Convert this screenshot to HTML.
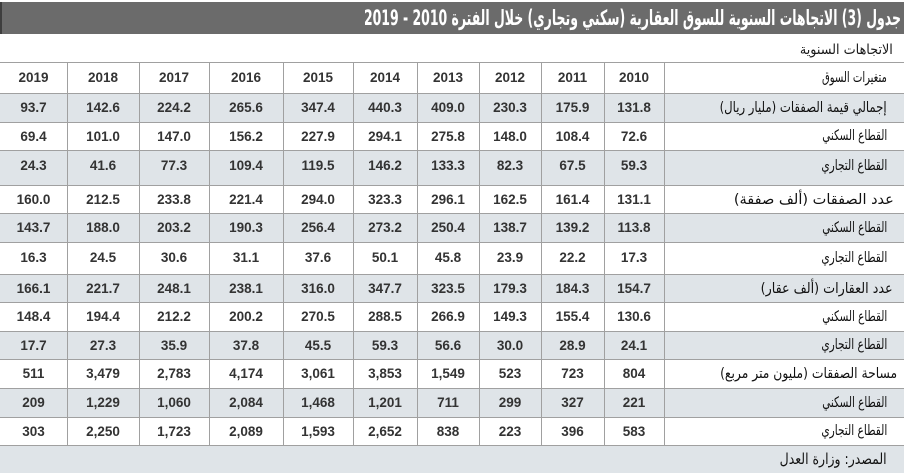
<!DOCTYPE html>
<html lang="ar">
<head>
<meta charset="utf-8">
<style>
  html,body{margin:0;padding:0;}
  body{width:904px;height:473px;position:relative;overflow:hidden;background:#fff;font-family:"Liberation Sans","DejaVu Sans",sans-serif;}
  .hdr{position:absolute;left:0;top:2px;width:904px;height:32px;background:#6b6b6b;border-left:2px solid #3e3e3e;box-sizing:border-box;}
  .title{position:absolute;right:3px;top:3px;height:30px;line-height:30px;color:#fff;font-family:"DejaVu Sans",sans-serif;font-weight:bold;font-size:21px;white-space:nowrap;direction:rtl;transform-origin:100% 50%;}
  .sub{position:absolute;right:11px;top:40px;height:20px;line-height:20px;color:#1a1a1a;font-family:"DejaVu Sans",sans-serif;font-size:14px;white-space:nowrap;direction:rtl;transform-origin:100% 50%;}
  .row{position:absolute;left:0;width:904px;border-top:1px solid #a0a0a0;box-sizing:border-box;}
  .sh{background:#dfe4e8;}
  .n{position:absolute;top:0;text-align:center;font-weight:bold;font-size:13.5px;color:#333;}
  .lab{position:absolute;top:0;white-space:nowrap;direction:rtl;font-family:"DejaVu Sans",sans-serif;font-size:14.5px;color:#111;transform-origin:100% 50%;}
  .c0{left:0;width:67px}.c1{left:67px;width:72px}.c2{left:139px;width:70px}.c3{left:209px;width:74px}
  .c4{left:283px;width:70px}.c5{left:353px;width:64px}.c6{left:417px;width:62px}.c7{left:479px;width:62px}
  .c8{left:541px;width:63px}.c9{left:604px;width:60px}
  .vl{position:absolute;top:62px;height:383px;width:1px;background:#a0a0a0;}
  .foot{position:absolute;left:0;top:445px;width:904px;height:28px;background:#dfe4e8;border-top:1px solid #a0a0a0;box-sizing:border-box;}
</style>
</head>
<body>
<div class="hdr"></div>
<div class="title fit" style="--w:537">جدول (3) الاتجاهات السنوية للسوق العقارية (سكني وتجاري) خلال الفترة 2010 - 2019</div>
<div class="sub fit" style="--w:93">الاتجاهات السنوية</div>

<div class="row" style="top:62px;height:31px;line-height:30px;">
  <span class="n c0">2019</span><span class="n c1">2018</span><span class="n c2">2017</span><span class="n c3">2016</span><span class="n c4">2015</span><span class="n c5">2014</span><span class="n c6">2013</span><span class="n c7">2012</span><span class="n c8">2011</span><span class="n c9">2010</span>
  <span class="lab fit" style="right:17px;--w:65">متغيرات السوق</span>
</div>

<div class="row sh" style="top:93px;height:29px;line-height:28px;">
  <span class="n c0">93.7</span><span class="n c1">142.6</span><span class="n c2">224.2</span><span class="n c3">265.6</span><span class="n c4">347.4</span><span class="n c5">440.3</span><span class="n c6">409.0</span><span class="n c7">230.3</span><span class="n c8">175.9</span><span class="n c9">131.8</span>
  <span class="lab fit" style="right:17px;--w:167">إجمالي قيمة الصفقات (مليار ريال)</span>
</div>

<div class="row" style="top:122px;height:28px;line-height:27px;">
  <span class="n c0">69.4</span><span class="n c1">101.0</span><span class="n c2">147.0</span><span class="n c3">156.2</span><span class="n c4">227.9</span><span class="n c5">294.1</span><span class="n c6">275.8</span><span class="n c7">148.0</span><span class="n c8">108.4</span><span class="n c9">72.6</span>
  <span class="lab fit" style="right:17px;--w:65">القطاع السكني</span>
</div>

<div class="row sh" style="top:150px;height:35px;line-height:30px;">
  <span class="n c0">24.3</span><span class="n c1">41.6</span><span class="n c2">77.3</span><span class="n c3">109.4</span><span class="n c4">119.5</span><span class="n c5">146.2</span><span class="n c6">133.3</span><span class="n c7">82.3</span><span class="n c8">67.5</span><span class="n c9">59.3</span>
  <span class="lab fit" style="right:17px;--w:66">القطاع التجاري</span>
</div>

<div class="row" style="top:185px;height:28px;line-height:28px;">
  <span class="n c0">160.0</span><span class="n c1">212.5</span><span class="n c2">233.8</span><span class="n c3">221.4</span><span class="n c4">294.0</span><span class="n c5">323.3</span><span class="n c6">296.1</span><span class="n c7">162.5</span><span class="n c8">161.4</span><span class="n c9">131.1</span>
  <span class="lab fit" style="right:10px;--w:160">عدد الصفقات (ألف صفقة)</span>
</div>

<div class="row sh" style="top:213px;height:29px;line-height:28px;">
  <span class="n c0">143.7</span><span class="n c1">188.0</span><span class="n c2">203.2</span><span class="n c3">190.3</span><span class="n c4">256.4</span><span class="n c5">273.2</span><span class="n c6">250.4</span><span class="n c7">138.7</span><span class="n c8">139.2</span><span class="n c9">113.8</span>
  <span class="lab fit" style="right:17px;--w:65">القطاع السكني</span>
</div>

<div class="row" style="top:242px;height:32px;line-height:30px;">
  <span class="n c0">16.3</span><span class="n c1">24.5</span><span class="n c2">30.6</span><span class="n c3">31.1</span><span class="n c4">37.6</span><span class="n c5">50.1</span><span class="n c6">45.8</span><span class="n c7">23.9</span><span class="n c8">22.2</span><span class="n c9">17.3</span>
  <span class="lab fit" style="right:17px;--w:66">القطاع التجاري</span>
</div>

<div class="row sh" style="top:274px;height:28px;line-height:28px;">
  <span class="n c0">166.1</span><span class="n c1">221.7</span><span class="n c2">248.1</span><span class="n c3">238.1</span><span class="n c4">316.0</span><span class="n c5">347.7</span><span class="n c6">323.5</span><span class="n c7">179.3</span><span class="n c8">184.3</span><span class="n c9">154.7</span>
  <span class="lab fit" style="right:11px;--w:132">عدد العقارات (ألف عقار)</span>
</div>

<div class="row" style="top:302px;height:29px;line-height:28px;">
  <span class="n c0">148.4</span><span class="n c1">194.4</span><span class="n c2">212.2</span><span class="n c3">200.2</span><span class="n c4">270.5</span><span class="n c5">288.5</span><span class="n c6">266.9</span><span class="n c7">149.3</span><span class="n c8">155.4</span><span class="n c9">130.6</span>
  <span class="lab fit" style="right:17px;--w:65">القطاع السكني</span>
</div>

<div class="row sh" style="top:331px;height:28px;line-height:27px;">
  <span class="n c0">17.7</span><span class="n c1">27.3</span><span class="n c2">35.9</span><span class="n c3">37.8</span><span class="n c4">45.5</span><span class="n c5">59.3</span><span class="n c6">56.6</span><span class="n c7">30.0</span><span class="n c8">28.9</span><span class="n c9">24.1</span>
  <span class="lab fit" style="right:17px;--w:66">القطاع التجاري</span>
</div>

<div class="row" style="top:359px;height:29px;line-height:28px;">
  <span class="n c0">511</span><span class="n c1">3,479</span><span class="n c2">2,783</span><span class="n c3">4,174</span><span class="n c4">3,061</span><span class="n c5">3,853</span><span class="n c6">1,549</span><span class="n c7">523</span><span class="n c8">723</span><span class="n c9">804</span>
  <span class="lab fit" style="right:7px;--w:177">مساحة الصفقات (مليون متر مربع)</span>
</div>

<div class="row sh" style="top:388px;height:29px;line-height:28px;">
  <span class="n c0">209</span><span class="n c1">1,229</span><span class="n c2">1,060</span><span class="n c3">2,084</span><span class="n c4">1,468</span><span class="n c5">1,201</span><span class="n c6">711</span><span class="n c7">299</span><span class="n c8">327</span><span class="n c9">221</span>
  <span class="lab fit" style="right:17px;--w:65">القطاع السكني</span>
</div>

<div class="row" style="top:417px;height:28px;line-height:27px;">
  <span class="n c0">303</span><span class="n c1">2,250</span><span class="n c2">1,723</span><span class="n c3">2,089</span><span class="n c4">1,593</span><span class="n c5">2,652</span><span class="n c6">838</span><span class="n c7">223</span><span class="n c8">396</span><span class="n c9">583</span>
  <span class="lab fit" style="right:17px;--w:66">القطاع التجاري</span>
</div>

<div class="foot">
  <span class="lab fit" style="right:17px;top:0;line-height:27px;font-size:15px;--w:107">المصدر: وزارة العدل</span>
</div>

<div class="vl" style="left:67px"></div>
<div class="vl" style="left:139px"></div>
<div class="vl" style="left:209px"></div>
<div class="vl" style="left:283px"></div>
<div class="vl" style="left:353px"></div>
<div class="vl" style="left:417px"></div>
<div class="vl" style="left:479px"></div>
<div class="vl" style="left:541px"></div>
<div class="vl" style="left:604px"></div>
<div class="vl" style="left:664px"></div>

<script>
  (function(){
    var els = document.querySelectorAll('.fit');
    for (var i = 0; i < els.length; i++) {
      var el = els[i];
      var target = parseFloat(getComputedStyle(el).getPropertyValue('--w'));
      var w = el.getBoundingClientRect().width;
      if (target && w) {
        el.style.transform = 'scaleX(' + (target / w) + ')';
      }
    }
  })();
</script>
</body>
</html>
